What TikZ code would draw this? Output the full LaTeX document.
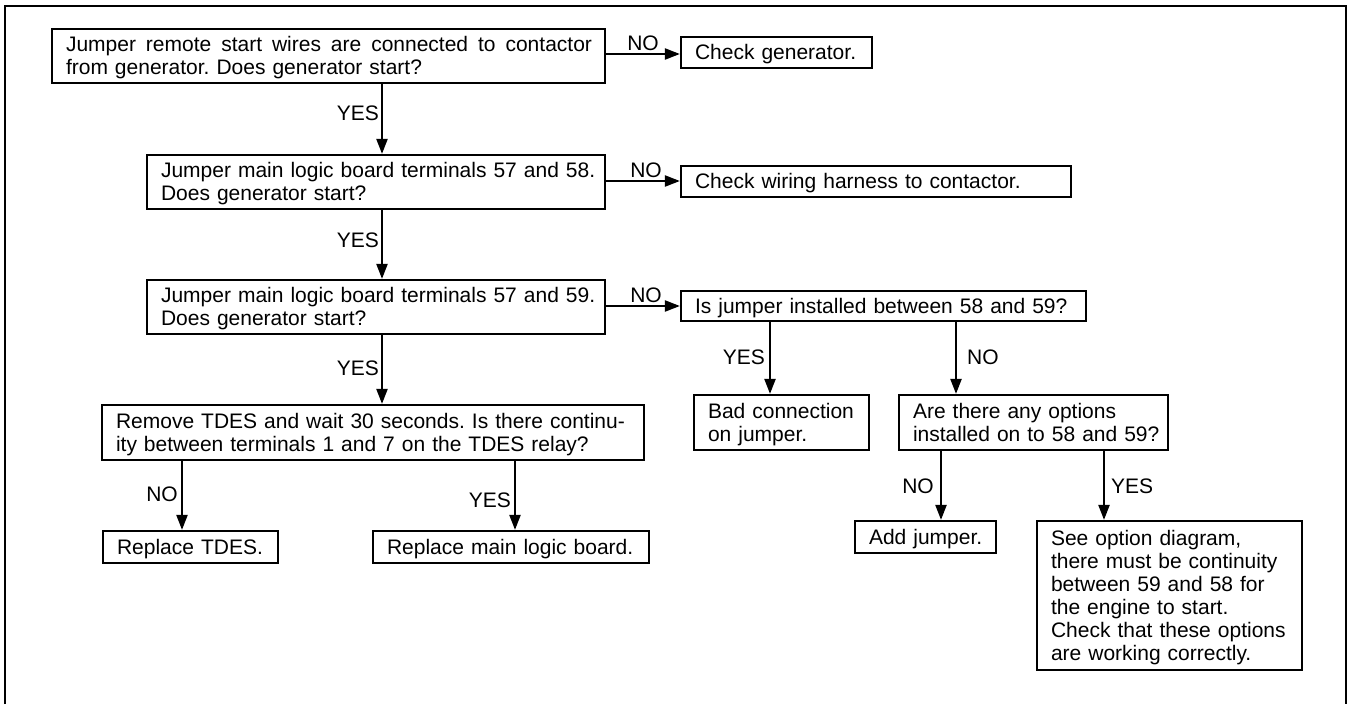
\documentclass[tikz,border=0pt]{standalone}
\usepackage{fontspec}
\setmainfont{Liberation Sans}
\usetikzlibrary{arrows.meta}
\frenchspacing

\tikzset{
  x=1pt, y=-1pt,
  txt/.style={font=\fontsize{21}{23}\selectfont},
  box/.style={txt, draw, line width=2.2pt, rectangle, inner xsep=14pt, inner ysep=0pt, align=left},
  arr/.style={line width=2.2pt, -{Triangle[length=15pt,width=11pt]}},
  lbl/.style={txt, inner sep=0pt},
  frame/.style={line width=2pt},
}

% line strut: sets the baseline low in each line
\newcommand\fstrut{\rule[-4.5pt]{0pt}{23pt}}
% one unbreakable line of box text
\newcommand\fl[1]{\mbox{\fstrut#1}}

% \flowbox{name}{left}{top}{right}{bottom}{text}
\newcommand\flowbox[6]{%
  \pgfmathsetmacro\fbw{#4-#2}%
  \pgfmathsetmacro\fbh{#5-#3}%
  \pgfmathsetmacro\fbx{(#2+#4)/2}%
  \pgfmathsetmacro\fby{(#3+#5)/2}%
  \pgfmathsetmacro\fbt{#4-#2-28}%
  \node[box, minimum width=\fbw pt, minimum height=\fbh pt, text width=\fbt pt] (#1) at (\fbx,\fby) {#6};}

\begin{document}
\begin{tikzpicture}
\useasboundingbox (0,0) rectangle (1349,704);

% outer frame
\draw[frame] (5,704) -- (5,6) -- (1346,6) -- (1346,704);

% main column
\flowbox{b1}{52}{29}{605}{83}{\hbox to 526pt{\fstrut Jumper\hfill remote\hfill start\hfill wires\hfill are\hfill connected\hfill to\hfill contactor}\\\fl{from generator. Does generator start?}}
\flowbox{b2}{147}{155}{605}{209}{\fl{Jumper main logic board terminals 57 and 58.}\\\fl{Does generator start?}}
\flowbox{b3}{147}{280}{605}{334}{\fl{Jumper main logic board terminals 57 and 59.}\\\fl{Does generator start?}}
\flowbox{b4}{102}{405}{644}{460}{\fl{Remove TDES and wait 30 seconds. Is there continu-}\\\fl{ity between terminals 1 and 7 on the TDES relay?}}
\flowbox{r1}{103}{531}{278}{563}{\fl{Replace TDES.}}
\flowbox{r2}{373}{531}{649}{563}{\fl{Replace main logic board.}}

% right-hand outcomes
\flowbox{n1}{681}{37}{872}{68}{\fl{Check generator.}}
\flowbox{n2}{681}{166}{1071}{197}{\fl{Check wiring harness to contactor.}}
\flowbox{q4}{681}{291}{1086}{321}{\fl{Is jumper installed between 58 and 59?}}
\flowbox{bad}{694}{395}{869}{450}{\fl{Bad connection}\\\fl{on jumper.}}
\flowbox{opt}{899}{395}{1168}{450}{\fl{Are there any options}\\\fl{installed on to 58 and 59?}}
\flowbox{add}{855}{521}{996}{553}{\fl{Add jumper.}}
\flowbox{see}{1037}{521}{1302}{670}{\fl{See option diagram,}\\\fl{there must be continuity}\\\fl{between 59 and 58 for}\\\fl{the engine to start.}\\\fl{Check that these options}\\\fl{are working correctly.}}

% YES path down the main column
\draw[arr] (b1.south -| 382,0) -- (b2.north -| 382,0);
\node[lbl, anchor=east] (y1) at (379,113) {YES};
\draw[arr] (b2.south -| 382,0) -- (b3.north -| 382,0);
\node[lbl, anchor=east] (y2) at (379,240) {YES};
\draw[arr] (b3.south -| 382,0) -- (b4.north -| 382,0);
\node[lbl, anchor=east] (y3) at (379,368) {YES};

% NO branches to the right
\draw[arr] (b1.east |- 0,54) -- (n1.west |- 0,54);
\node[lbl, anchor=base] (no1) at (643,50) {NO};
\draw[arr] (b2.east |- 0,181) -- (n2.west |- 0,181);
\node[lbl, anchor=base] (no2) at (646,177) {NO};
\draw[arr] (b3.east |- 0,306) -- (q4.west |- 0,306);
\node[lbl, anchor=base] (no3) at (646,302) {NO};

% TDES continuity test
\draw[arr] (b4.south -| 182,0) -- (r1.north -| 182,0);
\node[lbl, anchor=east] (no4) at (178,494) {NO};
\draw[arr] (b4.south -| 515,0) -- (r2.north -| 515,0);
\node[lbl, anchor=east] (y4) at (511,500) {YES};

% jumper check
\draw[arr] (q4.south -| 770,0) -- (bad.north -| 770,0);
\node[lbl, anchor=east] (y5) at (765,357) {YES};
\draw[arr] (q4.south -| 956,0) -- (opt.north -| 956,0);
\node[lbl, anchor=west] (no5) at (967,357) {NO};

% options check
\draw[arr] (opt.south -| 941,0) -- (add.north -| 941,0);
\node[lbl, anchor=east] (no6) at (934,486) {NO};
\draw[arr] (opt.south -| 1104,0) -- (see.north -| 1104,0);
\node[lbl, anchor=west] (y6) at (1111,486) {YES};
\end{tikzpicture}
\end{document}
